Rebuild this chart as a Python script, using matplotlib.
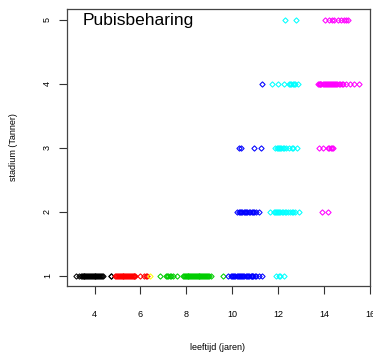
import matplotlib
matplotlib.use("Agg")
import matplotlib.pyplot as plt

plt.rcParams['font.family'] = ['Liberation Sans', 'DejaVu Sans']

title = "Pubisbeharing"
xlabel = "leeftijd (jaren)"
ylabel = "stadium (Tanner)"
xticks = [4, 6, 8, 10, 12, 14, 16]
yticks = [1, 2, 3, 4, 5]

# ages (years) per colour group, per Tanner stage
black_s1 = [3.2, 3.34, 3.4, 3.44, 3.48, 3.52, 3.56, 3.6, 3.64, 3.68, 3.72, 3.76, 3.8,
            3.84, 3.88, 3.92, 3.96, 4.0, 4.04, 4.08, 4.12, 4.16, 4.2, 4.24, 4.28, 4.32,
            4.36, 4.7, 4.73]
red_s1 = [4.9, 4.94, 4.98, 5.02, 5.06, 5.1, 5.14, 5.18, 5.22, 5.26, 5.3, 5.34, 5.38,
          5.42, 5.46, 5.5, 5.54, 5.58, 5.62, 5.66, 5.7, 5.74, 5.78, 5.97, 6.14, 6.22, 6.3]
yellow_s1 = [6.42]
green_s1 = [6.84, 7.1, 7.16, 7.22, 7.28, 7.34, 7.42, 7.6, 7.85, 7.89, 7.93, 7.97, 8.01,
            8.05, 8.09, 8.13, 8.17, 8.21, 8.25, 8.29, 8.33, 8.37, 8.41, 8.45, 8.49, 8.53,
            8.57, 8.61, 8.65, 8.69, 8.73, 8.77, 8.81, 8.85, 8.89, 8.93, 8.97, 9.08, 9.6]
blue_s1 = [9.82, 9.95, 10.0, 10.04, 10.08, 10.12, 10.2, 10.24, 10.28, 10.32, 10.4, 10.44,
           10.48, 10.52, 10.6, 10.64, 10.68, 10.72, 10.8, 10.84, 10.88, 10.92, 11.0,
           11.05, 11.15, 11.28]
cyan_s1 = [11.9, 12.05, 12.1, 12.25]

blue_s2 = [10.22, 10.28, 10.32, 10.38, 10.42, 10.5, 10.55, 10.6, 10.66, 10.72, 10.78,
           10.85, 10.9, 10.95, 11.05, 11.18]
cyan_s2 = [11.65, 11.8, 11.85, 11.9, 11.95, 12.0, 12.05, 12.1, 12.15, 12.2, 12.28, 12.35,
           12.42, 12.5, 12.6, 12.66, 12.75, 12.92]
magenta_s2 = [13.9, 14.15]

blue_s3 = [10.3, 10.4, 10.93, 11.26]
cyan_s3 = [11.88, 11.93, 11.98, 12.03, 12.08, 12.13, 12.2, 12.25, 12.35, 12.49, 12.6,
           12.66, 12.82]
magenta_s3 = [13.77, 13.97, 14.15, 14.22, 14.28, 14.34, 14.4]

blue_s4 = [11.3]
cyan_s4 = [11.74, 11.98, 12.27, 12.45, 12.52, 12.58, 12.63, 12.68, 12.72, 12.85]
magenta_s4 = [13.72, 13.76, 13.8, 13.84, 13.88, 13.94, 14.0, 14.04, 14.08, 14.12, 14.16,
              14.2, 14.26, 14.3, 14.34, 14.38, 14.42, 14.46, 14.52, 14.58, 14.64, 14.7,
              14.76, 14.82, 14.96, 15.14, 15.32, 15.5]

cyan_s5 = [12.3, 12.78]
magenta_s5 = [14.06, 14.2, 14.35, 14.45, 14.6, 14.75, 14.85, 14.95, 15.03]

colors = {"black": "#000000", "red": "#FF0000", "yellow": "#FFFF00", "green": "#00CD00",
          "blue": "#0000FF", "cyan": "#00FFFF", "magenta": "#FF00FF"}

series = [
    (1, black_s1, "black"), (1, red_s1, "red"), (1, yellow_s1, "yellow"),
    (1, green_s1, "green"), (1, blue_s1, "blue"), (1, cyan_s1, "cyan"),
    (2, blue_s2, "blue"), (2, cyan_s2, "cyan"), (2, magenta_s2, "magenta"),
    (3, blue_s3, "blue"), (3, cyan_s3, "cyan"), (3, magenta_s3, "magenta"),
    (4, blue_s4, "blue"), (4, cyan_s4, "cyan"), (4, magenta_s4, "magenta"),
    (5, cyan_s5, "cyan"), (5, magenta_s5, "magenta"),
]

fig = plt.figure(figsize=(3.73, 3.58), dpi=100)
ax = fig.add_axes([67/373, (358-286)/358, (370-67)/373, (286-9)/358])

for stage, ages, c in series:
    ax.plot(ages, [stage] * len(ages), linestyle='none', marker='D', markersize=2.7,
            markerfacecolor='none', markeredgecolor=colors[c], markeredgewidth=0.75)

ax.set_xlim(2.8, 16.0)
ax.set_ylim(0.84, 5.17)
ax.set_xticks(xticks)
ax.set_yticks(yticks)
ax.set_xticklabels([str(t) for t in xticks], fontsize=6.5)
ax.set_yticklabels([str(t) for t in yticks], fontsize=6.5, rotation=90, va='center')
ax.tick_params(axis='x', length=5.5, width=0.8, pad=12, color='#333333')
ax.tick_params(axis='y', length=5.8, width=0.8, pad=5, color='#333333')
for s in ax.spines.values():
    s.set_color('#444444')
    s.set_linewidth(0.9)

ax.text(0.053, 0.942, title, transform=ax.transAxes, fontsize=12.5, ha='left', va='baseline')
fig.text(218/373, 1 - 348/358, xlabel, fontsize=6.5, ha='center', va='center')
fig.text(13/373, 1 - 147/358, ylabel, fontsize=6.5, ha='center', va='center', rotation=90)

fig.savefig("out.png", dpi=100)
